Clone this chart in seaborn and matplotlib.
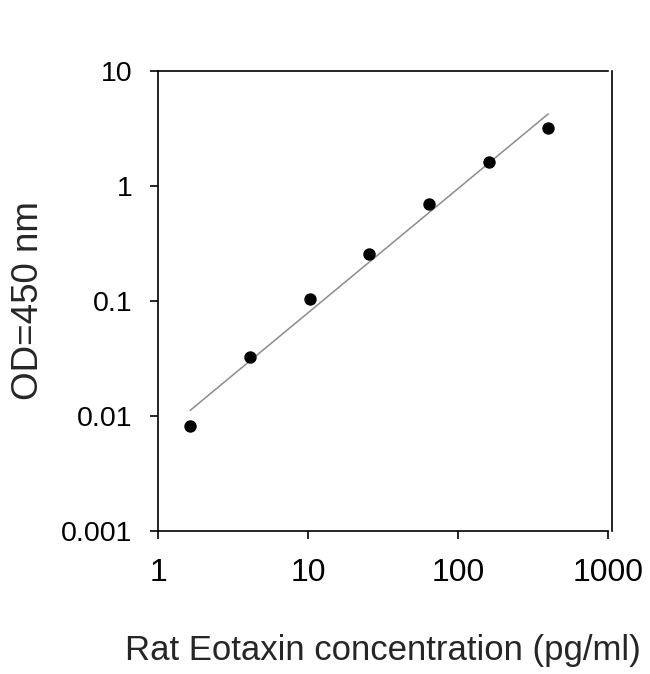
import numpy as np
import matplotlib
matplotlib.use("Agg")
import matplotlib.pyplot as plt
import seaborn as sns
import pandas as pd

# standard curve points (2.5-fold dilutions)
conc = [1.64, 4.1, 10.24, 25.6, 64, 160, 400]
od = [0.0082, 0.0324, 0.105, 0.258, 0.70, 1.62, 3.2]

# fitted line end points
fit_x = [1.64, 400]
fit_y = [0.0112, 4.24]

x_ticks = [1, 10, 100, 1000]
x_labels = ["1", "10", "100", "1000"]
y_ticks = [0.001, 0.01, 0.1, 1, 10]
y_labels = ["0.001", "0.01", "0.1", "1", "10"]

df = pd.DataFrame({"conc": conc, "od": od})
fit = pd.DataFrame({"conc": fit_x, "od": fit_y})

sns.set_style("ticks")
plt.rcParams["font.family"] = ["Liberation Sans", "DejaVu Sans"]

fig = plt.figure(figsize=(6.5, 6.74), dpi=100)
ax = fig.add_axes([158 / 650, 1 - 531 / 674, 450 / 650, 460 / 674])

sns.lineplot(data=fit, x="conc", y="od", ax=ax, color="#8c8c8c", linewidth=1.1)
sns.scatterplot(data=df, x="conc", y="od", ax=ax, color="black", s=80,
                edgecolor="black", linewidth=0, zorder=3)

ax.set_xscale("log")
ax.set_yscale("log")
ax.set_xlim(1, 1000)
ax.set_ylim(0.001, 10)
ax.set_xticks(x_ticks)
ax.set_xticklabels(x_labels)
ax.set_yticks(y_ticks)
ax.set_yticklabels(y_labels)
ax.minorticks_off()

for s in ax.spines.values():
    s.set_linewidth(1.2)
    s.set_color("black")
ax.spines["right"].set_position(("outward", 3))

ax.tick_params(direction="out", length=5.5, width=1.2, colors="black")
ax.tick_params(axis="y", pad=13, labelsize=20.5)
ax.tick_params(axis="x", pad=14, labelsize=23)

ax.set_xlabel("Rat Eotaxin concentration (pg/ml)", fontsize=25, labelpad=33)
ax.set_ylabel("OD=450 nm", fontsize=26.5, labelpad=11)

fig.savefig("out.png", dpi=100)
